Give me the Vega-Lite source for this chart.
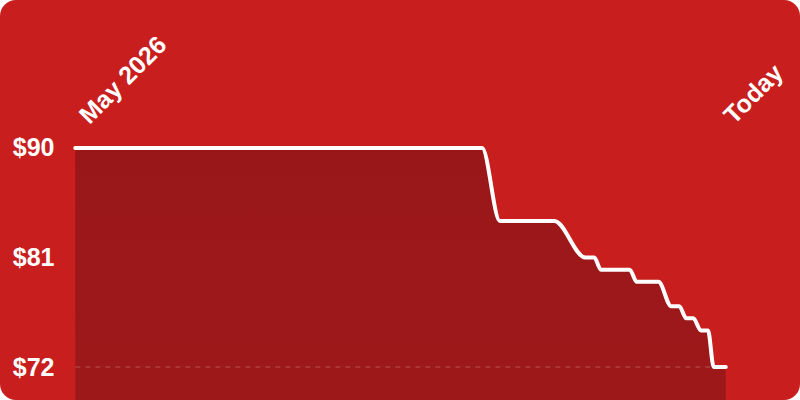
{
  "$schema": "https://vega.github.io/schema/vega-lite/v6.json",
  "width": 800,
  "height": 400,
  "padding": 0,
  "autosize": {"type": "none"},
  "background": "white",
  "data": {
    "values": [
      {"date": "2026-05-01T00:00", "price": 90},
      {"date": "2026-06-20T16:00", "price": 90},
      {"date": "2026-06-22T21:00", "price": 84},
      {"date": "2026-06-29T16:00", "price": 84},
      {"date": "2026-07-03T12:00", "price": 81},
      {"date": "2026-07-04T15:00", "price": 81},
      {"date": "2026-07-05T11:00", "price": 80},
      {"date": "2026-07-09T01:00", "price": 80},
      {"date": "2026-07-09T22:00", "price": 79},
      {"date": "2026-07-12T15:00", "price": 79},
      {"date": "2026-07-14T05:00", "price": 77},
      {"date": "2026-07-15T05:00", "price": 77},
      {"date": "2026-07-16T02:00", "price": 76},
      {"date": "2026-07-16T23:00", "price": 76},
      {"date": "2026-07-17T22:00", "price": 75},
      {"date": "2026-07-18T19:00", "price": 75},
      {"date": "2026-07-19T12:00", "price": 72},
      {"date": "2026-07-21T00:00", "price": 72}
    ]
  },
  "encoding": {
    "x": {
      "field": "date",
      "type": "temporal",
      "scale": {
        "domain": [
          {"year": 2026, "month": "apr", "date": 21, "hours": 15, "minutes": 10},
          {"year": 2026, "month": "jul", "date": 30, "hours": 5, "minutes": 53}
        ]
      },
      "axis": {
        "orient": "top",
        "offset": -130,
        "values": [
          {"year": 2026, "month": "may", "date": 2},
          {"year": 2026, "month": "jul", "date": 21, "hours": 6}
        ],
        "labelExpr": "datum.index == 0 ? 'May 2026' : 'Today'",
        "labelAngle": -45,
        "labelAlign": "left",
        "labelBaseline": "middle",
        "labelPadding": 11,
        "title": null
      }
    },
    "y": {
      "field": "price",
      "type": "quantitative",
      "scale": {"domain": [69.29, 102.16], "zero": false, "nice": false},
      "axis": {
        "values": [72, 81, 90],
        "format": "$,.0f",
        "offset": -61,
        "labelPadding": 7,
        "title": null
      }
    }
  },
  "layer": [
    {
      "mark": {
        "type": "area",
        "interpolate": "monotone",
        "color": {
          "gradient": "linear",
          "x1": 0, "y1": 0, "x2": 0, "y2": 1,
          "stops": [
            {"offset": 0, "color": "#9A1719"},
            {"offset": 1, "color": "#A81B1B"}
          ]
        }
      }
    },
    {
      "mark": {
        "type": "rule",
        "color": "#ffffff",
        "opacity": 0.17,
        "strokeWidth": 1.5,
        "strokeDash": [5, 5]
      },
      "encoding": {
        "x": {"field": "date", "type": "temporal", "aggregate": "min"},
        "x2": {"field": "date", "aggregate": "max"},
        "y": {"field": "price", "type": "quantitative", "aggregate": "min"}
      }
    },
    {
      "mark": {
        "type": "line",
        "interpolate": "monotone",
        "color": "#ffffff",
        "strokeWidth": 4,
        "strokeCap": "round"
      }
    }
  ],
  "config": {
    "view": {"stroke": null, "fill": "#C81E1E", "cornerRadius": 16},
    "axis": {
      "grid": false,
      "domain": false,
      "ticks": false,
      "tickSize": 0,
      "labelFont": "Liberation Sans",
      "labelFontWeight": "bold",
      "labelFontSize": 25,
      "labelColor": "#ffffff",
      "labelOverlap": false,
      "labelBound": false,
      "labelFlush": false
    }
  }
}
